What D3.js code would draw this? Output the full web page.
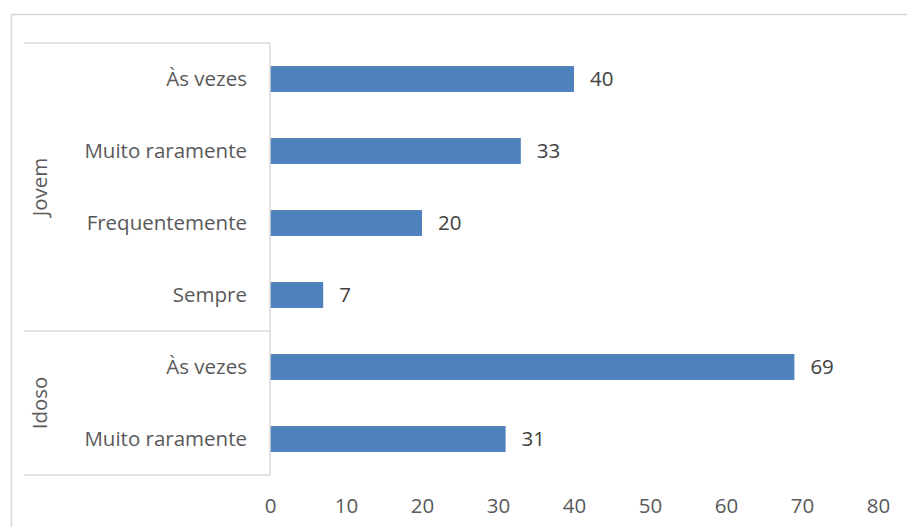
<!DOCTYPE html>
<html>
<head>
<meta charset="utf-8">
<script src="https://cdn.jsdelivr.net/npm/d3@7"></script>
<style>
  html, body { margin: 0; padding: 0; background: #fff; }
  svg { display: block; }
  text { font-family: "Open Sans", "Liberation Sans", sans-serif; }
</style>
</head>
<body>
<svg id="chart" width="907" height="527"></svg>
<script>
// Frequency of responses per age group
const groups = ["Jovem", "Idoso"];
const groupOf = ["Jovem", "Jovem", "Jovem", "Jovem", "Idoso", "Idoso"];
const categories = ["Às vezes", "Muito raramente", "Frequentemente", "Sempre", "Às vezes", "Muito raramente"];
const values = [40, 33, 20, 7, 69, 31];
const xTicks = [0, 10, 20, 30, 40, 50, 60, 70, 80];

const rows = categories.map((c, i) => ({ key: groupOf[i] + "|" + c, group: groupOf[i], label: c, value: values[i] }));

const svg = d3.select("#chart");
const plotLeft = 270, plotRight = 878, plotTop = 43, plotBottom = 475;
const axisGray = "#d9d9d9";
const fontSize = 20.5;

// outer chart frame
svg.append("rect")
  .attr("x", 11.5).attr("y", 14.5)
  .attr("width", 1000).attr("height", 1000)
  .attr("fill", "none").attr("stroke", axisGray).attr("stroke-width", 1.5);

const x = d3.scaleLinear().domain([0, 80]).range([plotLeft, plotRight]);
const y = d3.scaleBand().domain(rows.map(r => r.key)).range([plotTop, plotBottom]).paddingInner(0.64).paddingOuter(0.32);

// bars
svg.append("g").selectAll("rect").data(rows).join("rect")
  .attr("x", x(0))
  .attr("y", d => y(d.key))
  .attr("width", d => x(d.value) - x(0))
  .attr("height", y.bandwidth())
  .attr("fill", "#4f81bd");

// value labels
svg.append("g").selectAll("text").data(rows).join("text")
  .attr("x", d => x(d.value) + 16)
  .attr("y", d => y(d.key) + y.bandwidth() / 2)
  .attr("dy", "0.36em")
  .attr("font-size", fontSize)
  .attr("fill", "#404040")
  .text(d => d.value);

// category labels
svg.append("g").selectAll("text").data(rows).join("text")
  .attr("x", plotLeft - 23)
  .attr("y", d => y(d.key) + y.bandwidth() / 2)
  .attr("dy", "0.36em")
  .attr("text-anchor", "end")
  .attr("font-size", fontSize)
  .attr("fill", "#595959")
  .text(d => d.label);

// category axis structure: vertical axis line plus group separators
const step = y.step();
const groupBounds = groups.map(g => {
  const idx = rows.map((r, i) => r.group === g ? i : -1).filter(i => i >= 0);
  return { group: g, y0: plotTop + idx[0] * step, y1: plotTop + (idx[idx.length - 1] + 1) * step };
});

const axisG = svg.append("g").attr("stroke", axisGray).attr("stroke-width", 1.5);
axisG.append("line").attr("x1", plotLeft).attr("x2", plotLeft).attr("y1", plotTop).attr("y2", plotBottom);
const seps = [plotTop, ...groupBounds.map(b => b.y1)];
axisG.selectAll("line.sep").data(seps).join("line").attr("class", "sep")
  .attr("x1", 24).attr("x2", plotLeft).attr("y1", d => d).attr("y2", d => d);

// group labels
svg.append("g").selectAll("text").data(groupBounds).join("text")
  .attr("transform", d => `translate(47,${(d.y0 + d.y1) / 2}) rotate(-90)`)
  .attr("text-anchor", "middle")
  .attr("font-size", fontSize)
  .attr("fill", "#595959")
  .text(d => d.group);

// value axis tick labels
const xAxis = d3.axisBottom(x).tickValues(xTicks).tickSize(0).tickPadding(0);
const xg = svg.append("g").attr("transform", `translate(0,${plotBottom + 23})`).call(xAxis);
xg.select(".domain").remove();
xg.selectAll("text")
  .attr("font-size", fontSize)
  .attr("font-family", "\"Open Sans\", \"Liberation Sans\", sans-serif")
  .attr("fill", "#595959")
  .attr("dy", "0.71em");
</script>
</body>
</html>
